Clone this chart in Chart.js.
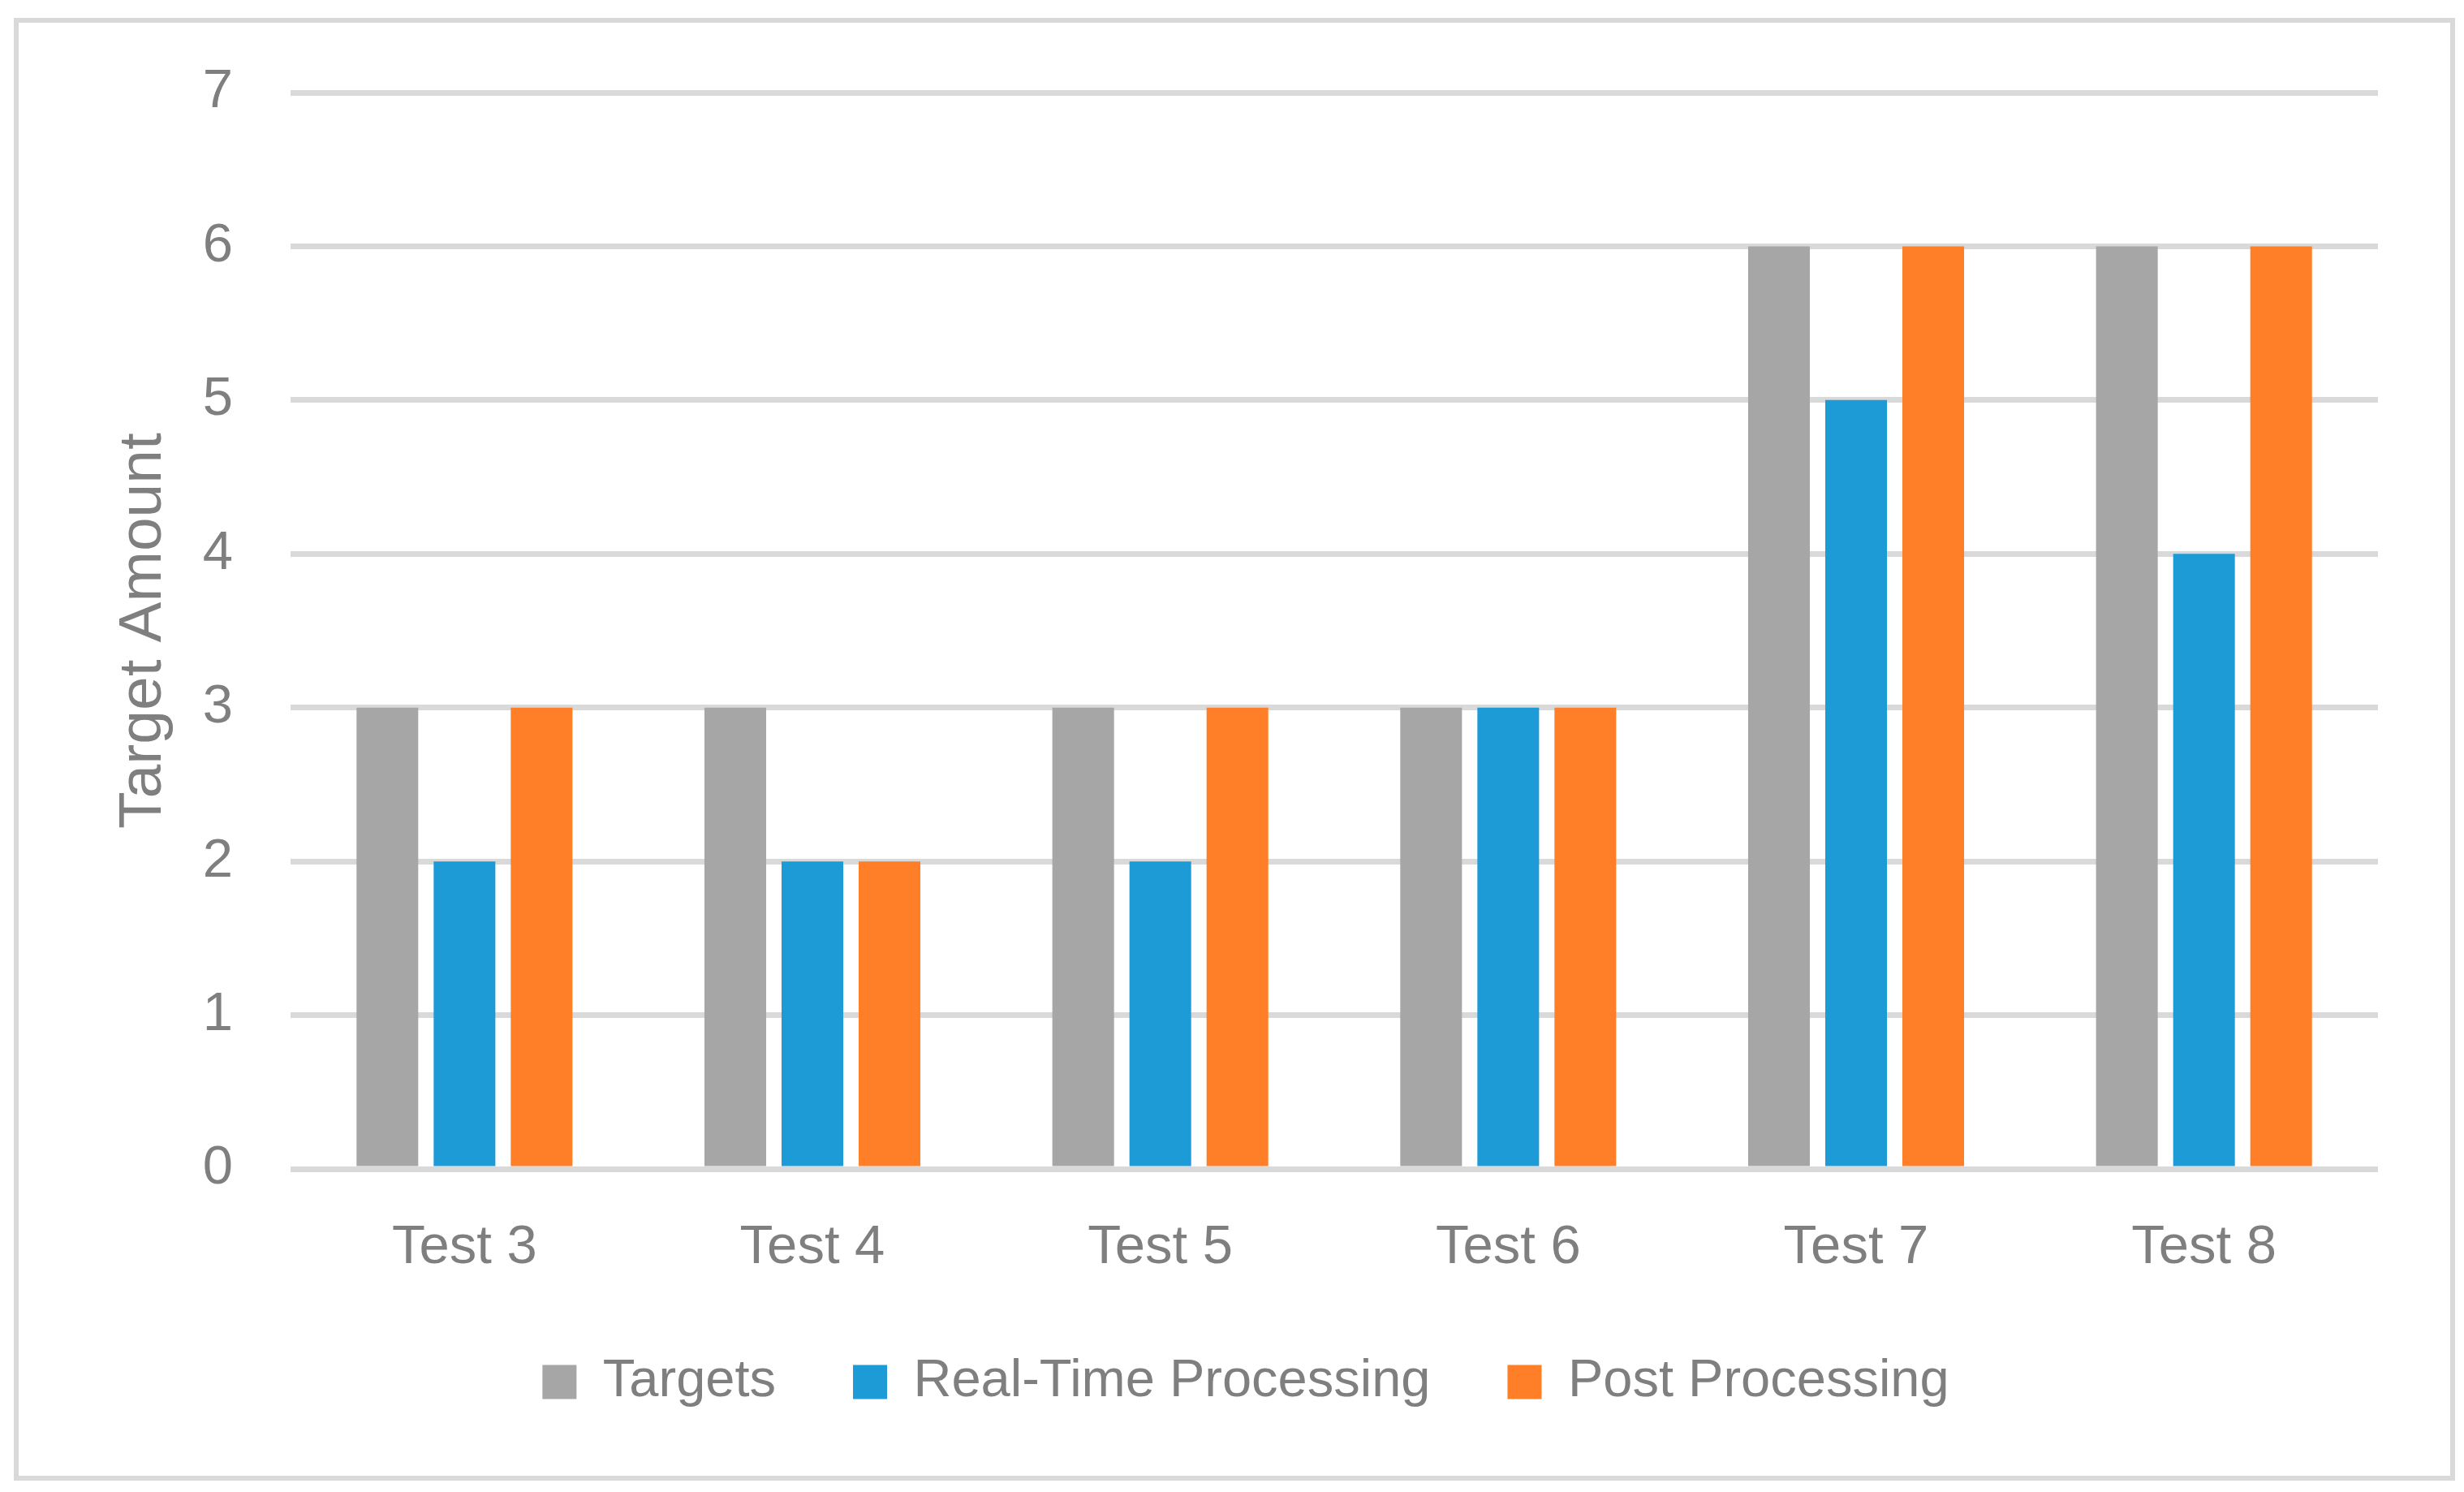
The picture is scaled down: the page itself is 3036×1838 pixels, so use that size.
<!DOCTYPE html>
<html>
<head>
<meta charset="utf-8">
<script src="https://cdn.jsdelivr.net/npm/chart.js@4.4.0/dist/chart.umd.min.js"></script>
<style>
  html, body { margin: 0; padding: 0; background: #ffffff; overflow: hidden; }
  #frame { position: absolute; left: 17px; top: 22px; width: 3008px; height: 1802px;
           box-sizing: border-box; border: 6px solid #d9d9d9; }
  #c { position: absolute; left: 0; top: 0; }
</style>
</head>
<body>
<div id="frame"></div>
<canvas id="c" width="3036" height="1838"></canvas>
<script>
const categories = ['Test 3', 'Test 4', 'Test 5', 'Test 6', 'Test 7', 'Test 8'];
const targets = [3, 3, 3, 3, 6, 6];
const realTimeProcessing = [2, 2, 2, 3, 5, 4];
const postProcessing = [3, 2, 3, 3, 6, 6];
const seriesNames = ['Targets', 'Real-Time Processing', 'Post Processing'];
const yAxisTitle = 'Target Amount';
const yMin = 0, yMax = 7, yStep = 1;

const FONT = "'Liberation Sans', Arial, sans-serif";
const TEXT = '#7f7f7f';
const GRID = '#d9d9d9';

new Chart(document.getElementById('c'), {
  type: 'bar',
  data: {
    labels: categories,
    datasets: [
      { label: seriesNames[0], data: targets, backgroundColor: '#a6a6a6' },
      { label: seriesNames[1], data: realTimeProcessing, backgroundColor: '#1d9bd7' },
      { label: seriesNames[2], data: postProcessing, backgroundColor: '#fe7f27' }
    ]
  },
  options: {
    responsive: false,
    animation: false,
    devicePixelRatio: 1,
    datasets: { bar: { categoryPercentage: 0.665, barPercentage: 0.8, borderWidth: 0 } },
    layout: { padding: { left: 140, right: 106, top: 114, bottom: 93 } },
    plugins: {
      tooltip: { enabled: false },
      legend: {
        position: 'bottom',
        labels: {
          boxWidth: 42, boxHeight: 42, padding: 95,
          color: TEXT, font: { family: FONT, size: 65 }
        }
      }
    },
    scales: {
      x: {
        grid: { display: false },
        border: { display: false },
        ticks: { color: TEXT, font: { family: FONT, size: 67 }, padding: 49, maxRotation: 0 },
        afterFit: (s) => { s.height = 135; }
      },
      y: {
        min: yMin, max: yMax,
        ticks: { stepSize: yStep, color: TEXT, font: { family: FONT, size: 67 }, padding: 71 },
        grid: { color: GRID, lineWidth: 7, drawTicks: false },
        border: { display: false },
        title: {
          display: true, text: yAxisTitle, color: TEXT,
          font: { family: FONT, size: 75, lineHeight: 1 },
          padding: { top: 0, bottom: 0 }
        },
        afterFit: (s) => { s.width = 218; }
      }
    }
  }
});
</script>
</body>
</html>
